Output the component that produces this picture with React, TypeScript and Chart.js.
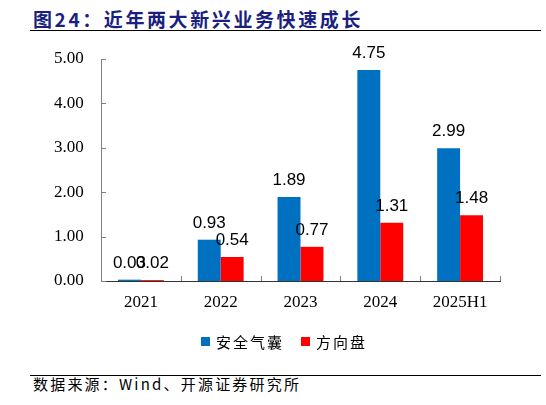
import { Chart, registerables, type Plugin } from 'chart.js';
import { useEffect, useRef } from 'react';

Chart.register(...registerables);

const years = ['2021', '2022', '2023', '2024', '2025H1'];
const airbag = [0.03, 0.93, 1.89, 4.75, 2.99];
const steering = [0.02, 0.54, 0.77, 1.31, 1.48];
const seriesNames = ['安全气囊', '方向盘'];
const seriesColors = ['#0070C0', '#FF0000'];

const serif = '"Liberation Serif", "Times New Roman", serif';
const cjk = '"Noto Sans CJK SC", sans-serif';

// value labels above the bars
const valueLabels: Plugin<'bar'> = {
  id: 'valueLabels',
  afterDatasetsDraw(chart) {
    const { ctx } = chart;
    ctx.save();
    ctx.font = '17px "Liberation Sans", Arial, sans-serif';
    ctx.fillStyle = '#000';
    ctx.textAlign = 'center';
    ctx.textBaseline = 'bottom';
    chart.data.datasets.forEach((ds, i) => {
      chart.getDatasetMeta(i).data.forEach((bar, j) => {
        const v = ds.data[j] as number;
        ctx.fillText(v.toFixed(2), bar.x, bar.y - 8);
      });
    });
    ctx.restore();
  },
};

// short tick marks pointing into the plot
const innerTicks: Plugin<'bar'> = {
  id: 'innerTicks',
  afterDraw(chart) {
    const { ctx, chartArea, scales } = chart;
    const y = scales.y;
    ctx.save();
    ctx.strokeStyle = '#808080';
    ctx.lineWidth = 1;
    ctx.beginPath();
    y.ticks.forEach((t) => {
      const py = Math.round(y.getPixelForValue(t.value)) + 0.5;
      ctx.moveTo(chartArea.left, py);
      ctx.lineTo(chartArea.left + 5, py);
    });
    const n = years.length;
    const w = (chartArea.right - chartArea.left) / n;
    for (let i = 0; i <= n; i++) {
      const px = Math.round(chartArea.left + i * w) + 0.5;
      ctx.moveTo(px, chartArea.bottom);
      ctx.lineTo(px, chartArea.bottom - 5);
    }
    ctx.stroke();
    ctx.restore();
  },
};

function BarChart() {
  const canvasRef = useRef<HTMLCanvasElement>(null);
  const chartRef = useRef<Chart<'bar'> | null>(null);

  useEffect(() => {
    const ctx = canvasRef.current?.getContext('2d');
    if (!ctx) return;

    chartRef.current = new Chart(ctx, {
      type: 'bar',
      data: {
        labels: years,
        datasets: seriesNames.map((name, i) => ({
          label: name,
          data: i === 0 ? airbag : steering,
          backgroundColor: seriesColors[i],
          categoryPercentage: 0.575,
          barPercentage: 1,
        })),
      },
      options: {
        animation: false,
        responsive: true,
        maintainAspectRatio: false,
        layout: { padding: { top: 23, right: 46, bottom: 41, left: 0 } },
        plugins: {
          tooltip: { enabled: false },
          legend: { display: false },
        },
        scales: {
          x: {
            grid: { display: false, drawTicks: false },
            border: { display: true, color: '#333', width: 1 },
            ticks: { color: '#000', padding: 11, font: { family: serif, size: 17 } },
            afterFit: (s) => {
              s.height = 44;
            },
          },
          y: {
            min: 0,
            max: 5,
            grid: { display: false, drawTicks: false },
            border: { display: true, color: '#808080', width: 1 },
            ticks: {
              stepSize: 1,
              color: '#000',
              padding: 4,
              crossAlign: 'far',
              font: { family: serif, size: 17 },
              callback: (v) => Number(v).toFixed(2),
            },
            afterFit: (s) => {
              s.width = 47;
            },
          },
        },
      },
      plugins: [valueLabels, innerTicks],
    });

    return () => {
      chartRef.current?.destroy();
    };
  }, []);

  return <canvas ref={canvasRef} />;
}

export default function App() {
  useEffect(() => {
    document.body.style.margin = '0';
  }, []);

  return (
    <div style={{ position: 'relative', width: 546, height: 405, background: '#fff', overflow: 'hidden' }}>
      <div
        style={{
          position: 'absolute',
          left: 33,
          top: 5,
          fontFamily: cjk,
          fontWeight: 700,
          fontSize: 19,
          color: '#1a1f80',
          letterSpacing: 2.6,
          whiteSpace: 'nowrap',
        }}
      >
        图24：近年两大新兴业务快速成长
      </div>
      <div style={{ position: 'absolute', left: 30, top: 30, width: 511, height: 1, background: '#000' }} />
      <div style={{ position: 'absolute', left: 54, top: 36, width: 492, height: 330 }}>
        <BarChart />
      </div>
      {seriesNames.map((name, i) => (
        <div
          key={name}
          style={{
            position: 'absolute',
            left: i === 0 ? 201 : 301,
            top: 331,
            display: 'flex',
            alignItems: 'center',
            fontFamily: cjk,
            fontSize: 15,
            letterSpacing: 2,
            color: '#000',
            whiteSpace: 'nowrap',
          }}
        >
          <span style={{ width: 9, height: 9, background: seriesColors[i], marginRight: 6 }} />
          {name}
        </div>
      ))}
      <div style={{ position: 'absolute', left: 30, top: 375, width: 511, height: 1, background: '#000' }} />
      <div
        style={{
          position: 'absolute',
          left: 33,
          top: 373,
          fontFamily: cjk,
          fontSize: 15,
          color: '#000',
          letterSpacing: 2.2,
          whiteSpace: 'nowrap',
        }}
      >
        数据来源：Wind、开源证券研究所
      </div>
    </div>
  );
}
